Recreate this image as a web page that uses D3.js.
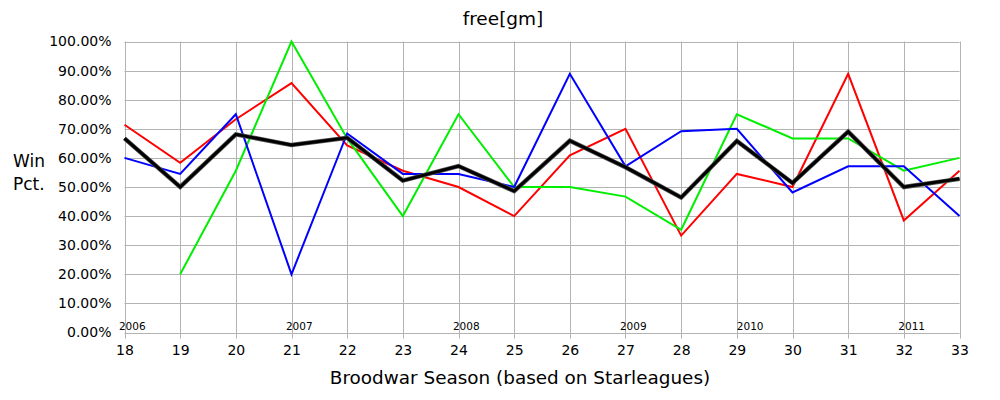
<!DOCTYPE html>
<html>
<head>
<meta charset="utf-8">
<script src="https://cdn.jsdelivr.net/npm/d3@7"></script>
<style>
  body { margin: 0; background: #fff; }
  text { font-family: "DejaVu Sans", sans-serif; fill: #000; }
</style>
</head>
<body>
<svg id="chart" width="1000" height="400"></svg>
<script>
// seasons on the x axis
const seasons = [18, 19, 20, 21, 22, 23, 24, 25, 26, 27, 28, 29, 30, 31, 32, 33];
// win pct per season (null = no games)
const redValues   = [71.4, 58.3, 73.3, 85.7, 64.3, 55.6, 50.0, 40.0, 60.9, 70.0, 33.3, 54.5, 50.0, 88.9, 38.5, 55.6];
const greenValues = [null, 20.0, 55.6, 100.0, 66.7, 40.0, 75.0, 50.0, 50.0, 46.7, 35.3, 75.0, 66.7, 66.7, 55.6, 60.0];
const blueValues  = [60.0, 54.5, 75.0, 20.0, 68.4, 54.5, 54.5, 50.0, 88.9, 57.1, 69.2, 70.0, 48.1, 57.1, 57.1, 40.0];
const totalValues = [66.7, 50.0, 68.1, 64.4, 66.9, 52.2, 57.2, 48.6, 65.9, 56.8, 46.4, 65.8, 51.4, 69.0, 50.0, 52.8];
// y tick values
const yTicks = [0, 10, 20, 30, 40, 50, 60, 70, 80, 90, 100];
// year markers (placed at a season position)
const yearLabels = ["2006", "2007", "2008", "2009", "2010", "2011"];
const yearSeasons = [17.9, 20.9, 23.9, 26.9, 29.0, 31.9];

const svg = d3.select("#chart");

// 1. scales
const xScale = d3.scaleLinear().domain([18, 33]).range([124.5, 959.5]);
const yScale = d3.scaleLinear().domain([0, 100]).range([332.5, 41.5]);

// 2. grid
const grid = svg.append("g").attr("stroke", "#b3b3b3").attr("stroke-width", 1);
grid.selectAll(".hg").data(yTicks).enter().append("line")
    .attr("x1", xScale(18)).attr("x2", xScale(33))
    .attr("y1", d => Math.round(yScale(d)) + 0.5)
    .attr("y2", d => Math.round(yScale(d)) + 0.5);
grid.selectAll(".vg").data(seasons).enter().append("line")
    .attr("x1", d => Math.round(xScale(d)) + 0.5)
    .attr("x2", d => Math.round(xScale(d)) + 0.5)
    .attr("y1", yScale(100)).attr("y2", yScale(0) + 6);

// 3. axes labels
const yAxis = d3.axisLeft(yScale).tickValues(yTicks).tickSize(0).tickPadding(13)
    .tickFormat(d => d.toFixed(2) + "%");
svg.append("g").attr("transform", "translate(" + xScale(18) + ",0)").call(yAxis)
    .call(g => g.select(".domain").remove())
    .selectAll("text").style("font-family", "DejaVu Sans").style("font-size", "14px").attr("fill", "#000");

const xAxis = d3.axisBottom(xScale).tickValues(seasons).tickSize(0).tickPadding(13)
    .tickFormat(d3.format("d"));
svg.append("g").attr("transform", "translate(0," + yScale(0) + ")").call(xAxis)
    .call(g => g.select(".domain").remove())
    .selectAll("text").style("font-family", "DejaVu Sans").style("font-size", "14px").attr("fill", "#000");

// year markers
svg.selectAll(".year").data(yearLabels).enter().append("text")
    .attr("x", (d, i) => xScale(yearSeasons[i]))
    .attr("y", 330)
    .style("font-size", "10.5px")
    .text(d => d);

// 4. lines
const line = d3.line()
    .defined(d => d != null)
    .x((d, i) => xScale(seasons[i]))
    .y(d => yScale(d));

const series = [
  { values: redValues, color: "#ff0000", width: 2 },
  { values: greenValues, color: "#00ee00", width: 2 },
  { values: blueValues, color: "#0000ff", width: 2 },
];
series.forEach(s => {
  svg.append("path").datum(s.values).attr("d", line)
    .attr("fill", "none").attr("stroke", s.color).attr("stroke-width", s.width)
    .attr("stroke-linejoin", "miter");
});
svg.append("path").datum(totalValues).attr("d", line)
    .attr("fill", "none").attr("stroke", "#555").attr("stroke-width", 4.5);
svg.append("path").datum(totalValues).attr("d", line)
    .attr("fill", "none").attr("stroke", "#000").attr("stroke-width", 3);

// 5. titles
svg.append("text").text("free[gm]")
    .attr("x", 503).attr("y", 25).attr("text-anchor", "middle").style("font-size", "18.5px");
svg.append("text").text("Broodwar Season (based on Starleagues)")
    .attr("x", 520).attr("y", 384).attr("text-anchor", "middle").style("font-size", "18.4px");
svg.append("text").text("Win").attr("x", 13).attr("y", 167).style("font-size", "17px");
svg.append("text").text("Pct.").attr("x", 13).attr("y", 190).style("font-size", "17px");
</script>
</body>
</html>
